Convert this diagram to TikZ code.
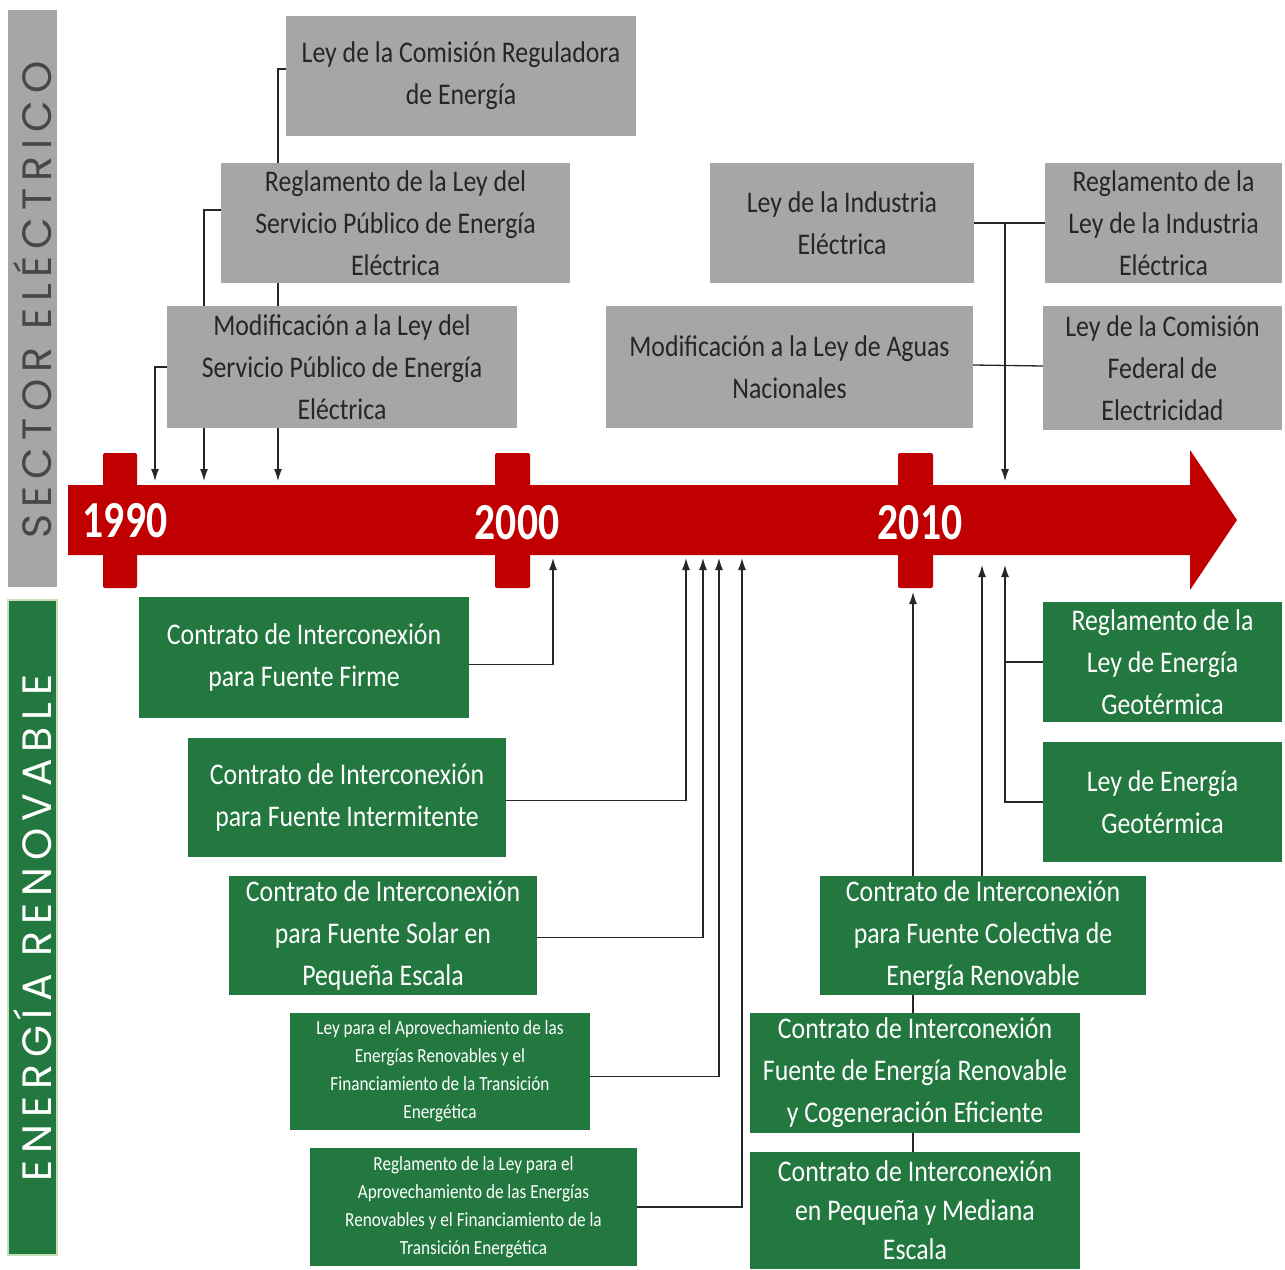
\documentclass[tikz,border=0pt]{standalone}
\usepackage{fontspec}
\setmainfont{Carlito}
\newfontfamily\boxfont[FakeStretch=0.86]{Carlito}
\newfontfamily\yearfont[FakeStretch=0.8]{Carlito}
\newfontfamily\sidefont[LetterSpace=17]{Poppins}
\usetikzlibrary{arrows.meta}
\pgfdeclarelayer{background}
\pgfsetlayers{background,main}
\definecolor{boxgray}{HTML}{A6A6A6}
\definecolor{boxgreen}{HTML}{237840}
\definecolor{barred}{HTML}{C00000}
\definecolor{edgegreen}{HTML}{C5E0B4}
\definecolor{inkgray}{HTML}{262626}
\definecolor{wire}{HTML}{262626}
\tikzset{
  basebox/.style={rectangle, inner sep=0pt, align=center,
    font=\boxfont\fontsize{30}{42}\selectfont},
  graybox/.style={basebox, fill=boxgray, text=inkgray},
  greenbox/.style={basebox, fill=boxgreen, text=white},
  smallgreen/.style={greenbox, font=\boxfont\fontsize{20}{28}\selectfont},
  wirearrow/.style={draw=wire, line width=1.3pt, -{Latex[length=12pt,width=8pt]}},
  wireplain/.style={draw=wire, line width=1.3pt},
  tick/.style={fill=barred, rounded corners=2pt},
  yearlabel/.style={text=white, font=\yearfont\bfseries\fontsize{52}{52}\selectfont},
  sidebar/.style={rectangle, inner sep=0pt, minimum width=49pt},
  sidetitle/.style={rotate=90, font=\sidefont\fontsize{41}{41}\selectfont}
}
\begin{document}
\begin{tikzpicture}[x=1pt, y=-1pt]
\useasboundingbox (0,0) rectangle (1285,1269);

% side bars with rotated section titles
\node[sidebar, fill=boxgray, minimum height=577pt] (sec) at (32.5,298.5) {};
\node[sidetitle, text=inkgray!85!white] (sectxt) at (33,300) {SECTOR ELÉCTRICO};
\node[sidebar, fill=boxgreen, draw=edgegreen, line width=2pt, minimum height=655pt] (ren) at (32.5,927.5) {};
\node[sidetitle, text=white] (rentxt) at (33,928) {ENERGÍA RENOVABLE};

% timeline: ticks and arrow
\fill[tick] (103,453) rectangle (137,588);
\fill[tick] (495,453) rectangle (530,588);
\fill[tick] (898,453) rectangle (933,588);
\fill[barred] (68,485) -- (1190,485) -- (1190,450) -- (1237,520) -- (1190,590) -- (1190,555) -- (68,555) -- cycle;
\node[yearlabel] (y1990) at (125,521) {1990};
\node[yearlabel] (y2000) at (517,523) {2000};
\node[yearlabel] (y2010) at (920,523) {2010};

% electric sector boxes
\node[graybox, minimum width=350pt, minimum height=120pt] (cre) at (461,76) {Ley de la Comisión Reguladora\\de Energía};
\node[graybox, minimum width=349pt, minimum height=120pt] (rsp) at (395.5,223) {Reglamento de la Ley del\\Servicio Público de Energía\\Eléctrica};
\node[graybox, minimum width=350pt, minimum height=122pt] (msp) at (342,367) {Modificación a la Ley del\\Servicio Público de Energía\\Eléctrica};
\node[graybox, minimum width=264pt, minimum height=120pt] (lie) at (842,223) {Ley de la Industria\\Eléctrica};
\node[graybox, minimum width=367pt, minimum height=122pt] (aguas) at (789.5,367) {Modificación a la Ley de Aguas\\Nacionales};
\node[graybox, minimum width=237pt, minimum height=120pt] (rlie) at (1163.5,223) {Reglamento de la\\Ley de la Industria\\Eléctrica};
\node[graybox, minimum width=239pt, minimum height=124pt] (cfe) at (1162.5,368) {Ley de la Comisión\\Federal de\\Electricidad};

% renewable energy boxes
\node[greenbox, minimum width=330pt, minimum height=121pt] (firme) at (304,657.5) {Contrato de Interconexión\\para Fuente Firme};
\node[greenbox, minimum width=318pt, minimum height=119pt] (interm) at (347,797.5) {Contrato de Interconexión\\para Fuente Intermitente};
\node[greenbox, minimum width=308pt, minimum height=119pt] (solar) at (383,935.5) {Contrato de Interconexión\\para Fuente Solar en\\Pequeña Escala};
\node[smallgreen, minimum width=300pt, minimum height=117pt] (laer) at (440,1071.5) {Ley para el Aprovechamiento de las\\Energías Renovables y el\\Financiamiento de la Transición\\Energética};
\node[smallgreen, minimum width=327pt, minimum height=118pt] (rlaer) at (473.5,1207) {Reglamento de la Ley para el\\Aprovechamiento de las Energías\\Renovables y el Financiamiento de la\\Transición Energética};
\node[greenbox, minimum width=239pt, minimum height=120pt] (rgeo) at (1162.5,662) {Reglamento de la\\Ley de Energía\\Geotérmica};
\node[greenbox, minimum width=239pt, minimum height=120pt] (lgeo) at (1162.5,802) {Ley de Energía\\Geotérmica};
\node[greenbox, minimum width=326pt, minimum height=119pt] (colect) at (983,935.5) {Contrato de Interconexión\\para Fuente Colectiva de\\Energía Renovable};
\node[greenbox, minimum width=330pt, minimum height=120pt] (cogen) at (915,1073) {Contrato de Interconexión\\Fuente de Energía Renovable\\y Cogeneración Eficiente};
\node[greenbox, minimum width=330pt, minimum height=117pt, font=\boxfont\fontsize{30}{39}\selectfont] (pyme) at (915,1210.5) {Contrato de Interconexión\\en Pequeña y Mediana\\Escala};

% connector end points on the timeline
\coordinate (d1) at (155,481);
\coordinate (d2) at (204,481);
\coordinate (d3) at (278,481);
\coordinate (d4) at (1005,481);
\coordinate (jn) at (1005,223);
\coordinate (u1) at (553,558);
\coordinate (u2) at (686,558);
\coordinate (u3) at (703,558);
\coordinate (u4) at (719,558);
\coordinate (u5) at (742,558);
\coordinate (u6) at (913,592);
\coordinate (u7) at (982,565);
\coordinate (u8) at (1005,565);
\coordinate (jg) at (1005,662);

\begin{pgfonlayer}{background}
  % electric sector links (down to the timeline)
  \draw[wirearrow] ([yshift=7pt]cre.west) -| (d3);
  \draw[wirearrow] ([yshift=13pt]rsp.west) -| (d2);
  \draw[wirearrow] (msp.west) -| (d1);
  \draw[wireplain] (lie.east) -- (rlie.west);
  \draw[wireplain] ([yshift=2pt]aguas.east) -- ([yshift=2pt]cfe.west);
  \draw[wirearrow] (jn) -- (d4);
  % renewable energy links (up to the timeline)
  \draw[wirearrow] ([yshift=-7pt]firme.east) -| (u1);
  \draw[wirearrow] ([yshift=-3pt]interm.east) -| (u2);
  \draw[wirearrow] ([yshift=-2pt]solar.east) -| (u3);
  \draw[wirearrow] ([yshift=-5pt]laer.east) -| (u4);
  \draw[wirearrow] (rlaer.east) -| (u5);
  \draw[wirearrow] ([xshift=-2pt]pyme.north) -- (u6);
  \draw[wirearrow] ([xshift=-1pt]colect.north) -- (u7);
  \draw[wirearrow] (lgeo.west) -| (u8);
  \draw[wireplain] (rgeo.west) -- (jg);
\end{pgfonlayer}
\end{tikzpicture}
\end{document}
